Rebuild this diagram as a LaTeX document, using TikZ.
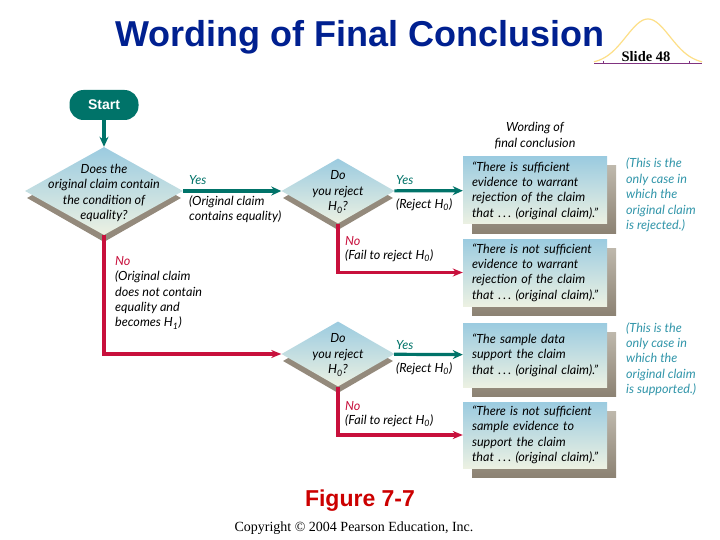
\documentclass[tikz,border=0pt]{standalone}
\usepackage{fontspec}
\setmainfont{Liberation Serif}
\setsansfont{Lato}
\newfontfamily\headfont{Liberation Sans}
\usetikzlibrary{positioning,shapes.geometric,arrows.meta}

\definecolor{titleblue}{RGB}{0,32,144}
\definecolor{figred}{RGB}{204,0,0}
\definecolor{flowteal}{RGB}{0,115,105}
\definecolor{flowred}{RGB}{200,16,60}
\definecolor{noteblue}{RGB}{50,150,170}
\definecolor{skytop}{RGB}{155,203,224}
\definecolor{skybottom}{RGB}{236,241,226}
\definecolor{shadetop}{RGB}{190,184,172}
\definecolor{shadebottom}{RGB}{140,130,115}

\newcommand{\hnull}{H\textsubscript{0}}
\newcommand{\hone}{H\textsubscript{1}}
\newcommand{\thatline}{\mbox{that .\,.\,. (original claim).”}}

\tikzset{
    question/.style={diamond, aspect=1.75, inner sep=0pt, top color=skytop, bottom color=skybottom},
    questionshadow/.style={diamond, aspect=1.75, inner sep=0pt, fill=shadebottom!85!shadetop},
    wordbox/.style={rectangle, inner sep=0pt, inner xsep=9pt, minimum width=144pt, top color=skytop, bottom color=skybottom,
        text width=126pt, align=left, font=\handtext},
    boxshadow/.style={rectangle, inner sep=0pt, minimum width=144pt, top color=shadetop, bottom color=shadebottom},
    hand/.style={inner sep=0pt, align=left, anchor=west, font=\handtext},
    teallabel/.style={hand, text=flowteal},
    redlabel/.style={hand, text=flowred},
    sidenote/.style={hand, text=noteblue},
    yesline/.style={-{Stealth[length=10pt,width=9pt]}, line width=3.2pt, flowteal},
    noline/.style={-{Stealth[length=10pt,width=8pt]}, line width=3.2pt, flowred}
}
\newcommand{\handtext}{\sffamily\itshape\frenchspacing\fontsize{12.6pt}{15.4pt}\selectfont}

\begin{document}
\begin{tikzpicture}[x=1pt, y=-1pt]
    \useasboundingbox (0,0) rectangle (720,540);
    \fill[white] (0,0) rectangle (720,540);

    % Title and slide mark
    \node[inner sep=0pt, text=titleblue, font=\headfont\bfseries\fontsize{36pt}{40pt}\selectfont] (title) at (360,37) {Wording of Final Conclusion};
    \draw[line width=1.2pt, draw=yellow!50!orange!45!white, domain=594:702, samples=60, smooth]
        plot (\x, {64-45*exp(-((\x-648)/22)^2/2)});
    \draw[line width=1pt, violet!60!gray] (594,64) -- (702,64);
    \draw[line width=1pt, violet!60!gray] (603,61) -- (603,64);
    \draw[line width=1pt, violet!60!gray] (689,61) -- (689,64);
    \node[inner sep=0pt, font=\bfseries\fontsize{14.5pt}{16pt}\selectfont] (slide) at (646,57) {Slide 48};

    % Start and the questions
    \node[rectangle, rounded corners=14pt, fill=flowteal, text=white, minimum width=69pt, minimum height=30pt,
        inner sep=0pt, font=\headfont\bfseries\fontsize{14pt}{15pt}\selectfont] (start) at (104,105) {Start};

    \node[questionshadow, minimum width=154pt, minimum height=88pt] (claimshadow) at (104,198) {};
    \node[question, minimum width=158pt, minimum height=88pt] (claim) at (104,191) {};
    \node[inner sep=0pt, align=center, font=\handtext] (claimtext) at (104,193) {Does the\\original claim contain\\the condition of\\equality?};

    \node[questionshadow, minimum width=110pt, minimum height=64pt] (rejectAshadow) at (338,198) {};
    \node[question, minimum width=113pt, minimum height=65pt] (rejectA) at (338,191) {};
    \node[inner sep=0pt, align=center, font=\handtext] (rejectAtext) at (338,192) {Do\\you reject\\\hnull?};

    \node[questionshadow, minimum width=110pt, minimum height=64pt] (rejectBshadow) at (338,361) {};
    \node[question, minimum width=113pt, minimum height=65pt] (rejectB) at (338,354) {};
    \node[inner sep=0pt, align=center, font=\handtext] (rejectBtext) at (338,355) {Do\\you reject\\\hnull?};

    % Wording boxes
    \node[boxshadow, minimum height=67pt] (boxAshadow) at (544,199.5) {};
    \node[wordbox, minimum height=67pt] (boxA) at (535,190.5) {“There is sufficient\\evidence to warrant\\rejection of the claim\\\thatline};
    \node[boxshadow, minimum height=67pt] (boxBshadow) at (544,281.5) {};
    \node[wordbox, minimum height=67pt] (boxB) at (535,272.5) {“There is not sufficient\\evidence to warrant\\rejection of the claim\\\thatline};
    \node[boxshadow, minimum height=64pt] (boxCshadow) at (544,364) {};
    \node[wordbox, minimum height=64pt] (boxC) at (535,355) {“The sample data\\support the claim\\\thatline};
    \node[boxshadow, minimum height=66pt] (boxDshadow) at (544,444) {};
    \node[wordbox, minimum height=66pt] (boxD) at (535,435) {“There is not sufficient\\sample evidence to\\support the claim\\\thatline};

    \node[inner sep=0pt, align=center, font=\handtext] (wording) at (535,135.5) {Wording of\\final conclusion};

    % Arrows
    \draw[yesline] (start) -- (claim);
    \draw[yesline] (claim) -- (rejectA);
    \draw[yesline] (rejectA) -- (boxA);
    \draw[yesline] (rejectB) -- (boxC);
    \draw[noline] (claim.south) |- (rejectB);
    \draw[noline] (rejectA.south) |- (boxB);
    \draw[noline] (rejectB.south) |- (boxD);

    % Labels on the arrows
    \node[teallabel] (yesclaim) at (189,180) {Yes};
    \node[hand] (equality) at (189,209.5) {(Original claim\\contains equality)};
    \node[teallabel] (yesA) at (396,180) {Yes};
    \node[hand] (rejecttextA) at (396,205) {(Reject \hnull)};
    \node[redlabel] (noA) at (345,241) {No};
    \node[hand] (failA) at (345,256) {(Fail to reject \hnull)};
    \node[redlabel] (noclaim) at (115,261) {No};
    \node[hand] (noequality) at (115,300) {(Original claim\\does not contain\\equality and\\becomes \hone)};
    \node[teallabel] (yesB) at (396,345) {Yes};
    \node[hand] (rejecttextB) at (396,369) {(Reject \hnull)};
    \node[redlabel] (noB) at (345,406) {No};
    \node[hand] (failB) at (345,421) {(Fail to reject \hnull)};

    % Side notes
    \node[sidenote] (noteA) at (626,195) {(This is the\\only case in\\which the\\original claim\\is rejected.)};
    \node[sidenote] (noteB) at (626,359) {(This is the\\only case in\\which the\\original claim\\is supported.)};

    % Caption
    \node[inner sep=0pt, text=figred, font=\headfont\bfseries\fontsize{23pt}{26pt}\selectfont] (figure) at (360,501) {Figure 7-7};
    \node[inner sep=0pt, font=\fontsize{14pt}{16pt}\selectfont] (copyright) at (354,528.5) {Copyright © 2004 Pearson Education, Inc.};
\end{tikzpicture}
\end{document}
